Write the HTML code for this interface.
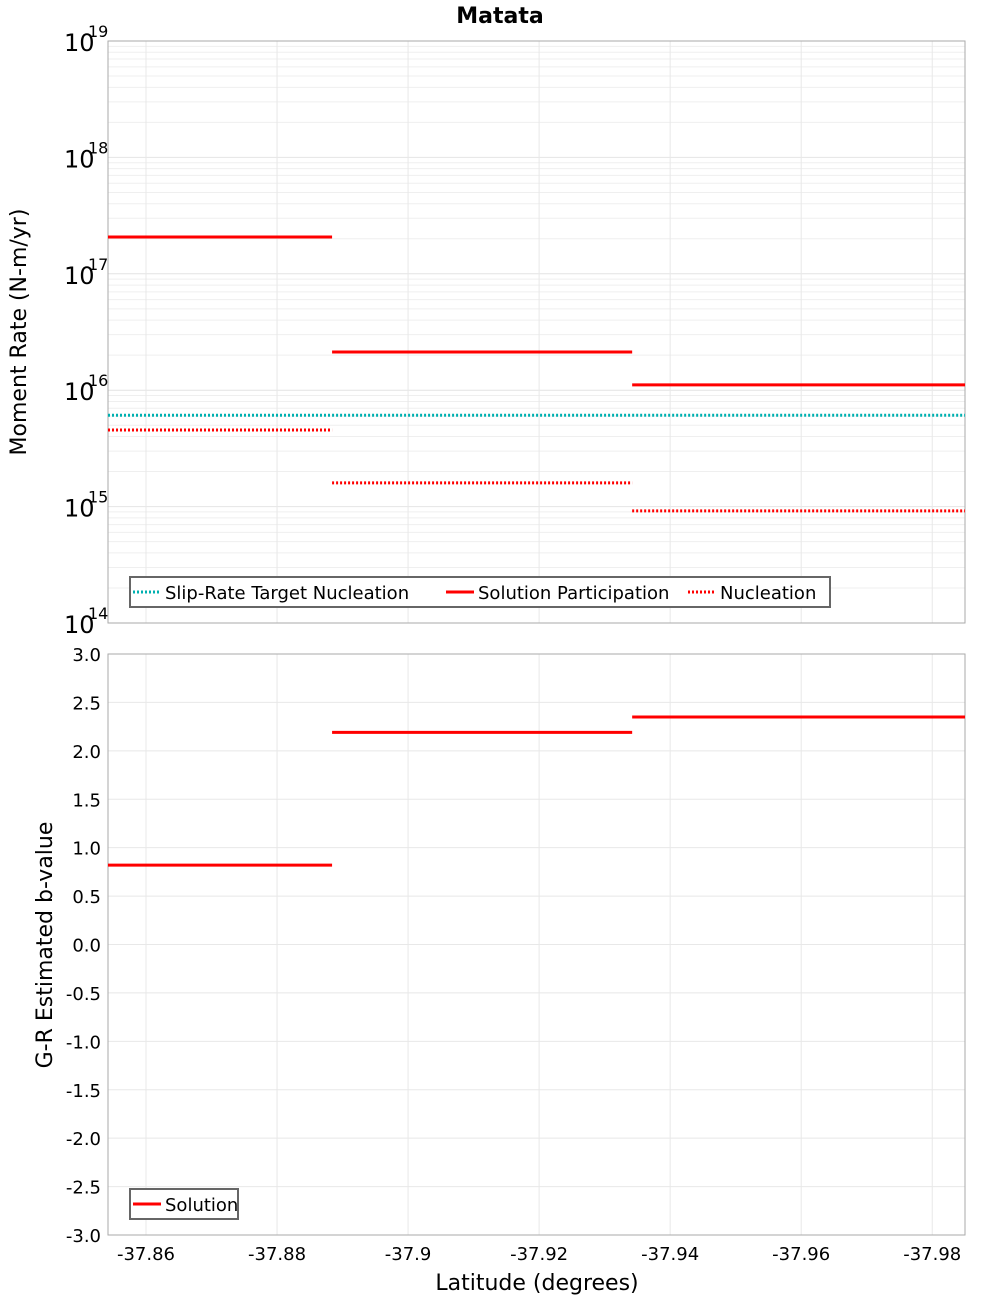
<!DOCTYPE html>
<html><head><meta charset="utf-8"><style>
body{margin:0;background:#fff;}
svg text{font-family:"DejaVu Sans","Liberation Sans",sans-serif;}
</style></head><body>
<svg id="chart" width="1000" height="1300" xmlns="http://www.w3.org/2000/svg">
<rect width="1000" height="1300" fill="#fff"/>
<text x="500" y="23" font-size="22" font-weight="bold" text-anchor="middle">Matata</text>
<g id="topPlot"></g>
<g id="botPlot"></g>
</svg>
<script>
const segStart = [-37.8542, -37.8884, -37.9342];
const segEnd = [-37.8884, -37.9342, -37.985];
const participation = [2.07e17, 2.13e16, 1.11e16];
const nucleation = [4.55e15, 1.6e15, 9.2e14];
const slipTarget = [6.1e15, 6.1e15, 6.1e15];
const bValues = [0.82, 2.19, 2.35];
const xTicks = [-37.86, -37.88, -37.9, -37.92, -37.94, -37.96, -37.98];
const xTickLabels = ["-37.86", "-37.88", "-37.9", "-37.92", "-37.94", "-37.96", "-37.98"];
const logDecades = [14, 15, 16, 17, 18, 19];
const bTicks = [3.0, 2.5, 2.0, 1.5, 1.0, 0.5, 0.0, -0.5, -1.0, -1.5, -2.0, -2.5, -3.0];

const NS = "http://www.w3.org/2000/svg";
const L = 108, R = 965;
const T1 = 41, B1 = 623, T2 = 654, B2 = 1235;
const xMin = -37.8542, xMax = -37.985;
function xs(v){return L + (v - xMin) / (xMax - xMin) * (R - L);}
function ylog(v){return B1 - (Math.log10(v) - 14) / 5 * (B1 - T1);}
function yb(v){return B2 - (v + 3) / 6 * (B2 - T2);}
function mk(parent, tag, attrs, txt){
  const e = document.createElementNS(NS, tag);
  for (const k in attrs) e.setAttribute(k, attrs[k]);
  if (txt !== undefined) e.textContent = txt;
  parent.appendChild(e); return e;
}
const topG = document.getElementById('topPlot'), botG = document.getElementById('botPlot');

for (let d = 14; d < 19; d++) for (let m = 1; m < 10; m++) {
  const y = ylog(m * Math.pow(10, d));
  const g = mk(topG, 'line', {x1:L, x2:R, y1:y, y2:y, stroke: m===1?'#e4e4e4':'#efefef', 'stroke-width':1});
  
  
}
bTicks.forEach(v => {
  const y = yb(v);
  const g = mk(botG, 'line', {x1:L, x2:R, y1:y, y2:y, stroke:'#e8e8e8'});
  
  
  const t = mk(botG, 'text', {x:101, y:y+7, 'font-size':18, 'text-anchor':'end'}, v.toFixed(1));
  
  
});
xTicks.forEach((v, i) => {
  const x = xs(v);
  [[T1,B1,topG],[T2,B2,botG]].forEach(([a,b,p]) => {
    const g = mk(p, 'line', {x1:x, x2:x, y1:a, y2:b, stroke:'#e8e8e8'});
    
    
  });
  const t = mk(botG, 'text', {x:x, y:1260, 'font-size':18, 'text-anchor':'middle'}, xTickLabels[i]);
  
  
});
logDecades.forEach(d => {
  const y = ylog(Math.pow(10, d));
  const t = mk(topG, 'text', {x:64, y:y+10, 'font-size':24}, '10');
  
  
  const s = mk(topG, 'text', {x:88, y:y-4, 'font-size':16}, String(d));
  
  
});
[[T1,B1,topG],[T2,B2,botG]].forEach(([a,b,p]) => {
  const r = mk(p, 'rect', {x:L, y:a, width:R-L, height:b-a, fill:'none', stroke:'#aaa'});
  
  
});
function seg(p, vals, yf, color, dash, name){
  vals.forEach((v, i) => {
    const y = yf(v);
    const a = {x1:xs(segStart[i]), x2:xs(segEnd[i]), y1:y, y2:y, stroke:color, 'stroke-width':3};
    if (dash) a['stroke-dasharray'] = '2,2';
    const l = mk(p, 'line', a);
    
    
  });
}
seg(topG, slipTarget, ylog, '#00b0b0', true, 'slip-rate-target-segment');
seg(topG, participation, ylog, '#ff0000', false, 'participation-segment');
seg(topG, nucleation, ylog, '#ff0000', true, 'nucleation-segment');
seg(botG, bValues, yb, '#ff0000', false, 'b-value-segment');

let t = mk(topG, 'text', {x:0, y:0, 'font-size':22, 'text-anchor':'middle', transform:'translate(26,332) rotate(-90)'}, 'Moment Rate (N-m/yr)');


t = mk(botG, 'text', {x:0, y:0, 'font-size':22, 'text-anchor':'middle', transform:'translate(52,945) rotate(-90)'}, 'G-R Estimated b-value');


t = mk(botG, 'text', {x:537, y:1290, 'font-size':22, 'text-anchor':'middle'}, 'Latitude (degrees)');



function legend(p, x, y, w, items){
  const g = mk(p, 'g', {});
  
  
  mk(g, 'rect', {x:x, y:y, width:w, height:30, fill:'#fff', stroke:'#666', 'stroke-width':2});
  items.forEach(it => {
    const a = {x1:it[0], x2:it[0]+28, y1:y+15, y2:y+15, stroke:it[2], 'stroke-width':3};
    if (it[3]) a['stroke-dasharray'] = '2,2';
    mk(g, 'line', a);
    const tx = mk(g, 'text', {x:it[0]+32, y:y+22, 'font-size':18}, it[1]);
    
    
  });
}
legend(topG, 130, 577, 700, [[133,'Slip-Rate Target Nucleation','#00b0b0',true],[446,'Solution Participation','#ff0000',false],[688,'Nucleation','#ff0000',true]]);
legend(botG, 130, 1189, 108, [[133,'Solution','#ff0000',false]]);
</script>
</body></html>
